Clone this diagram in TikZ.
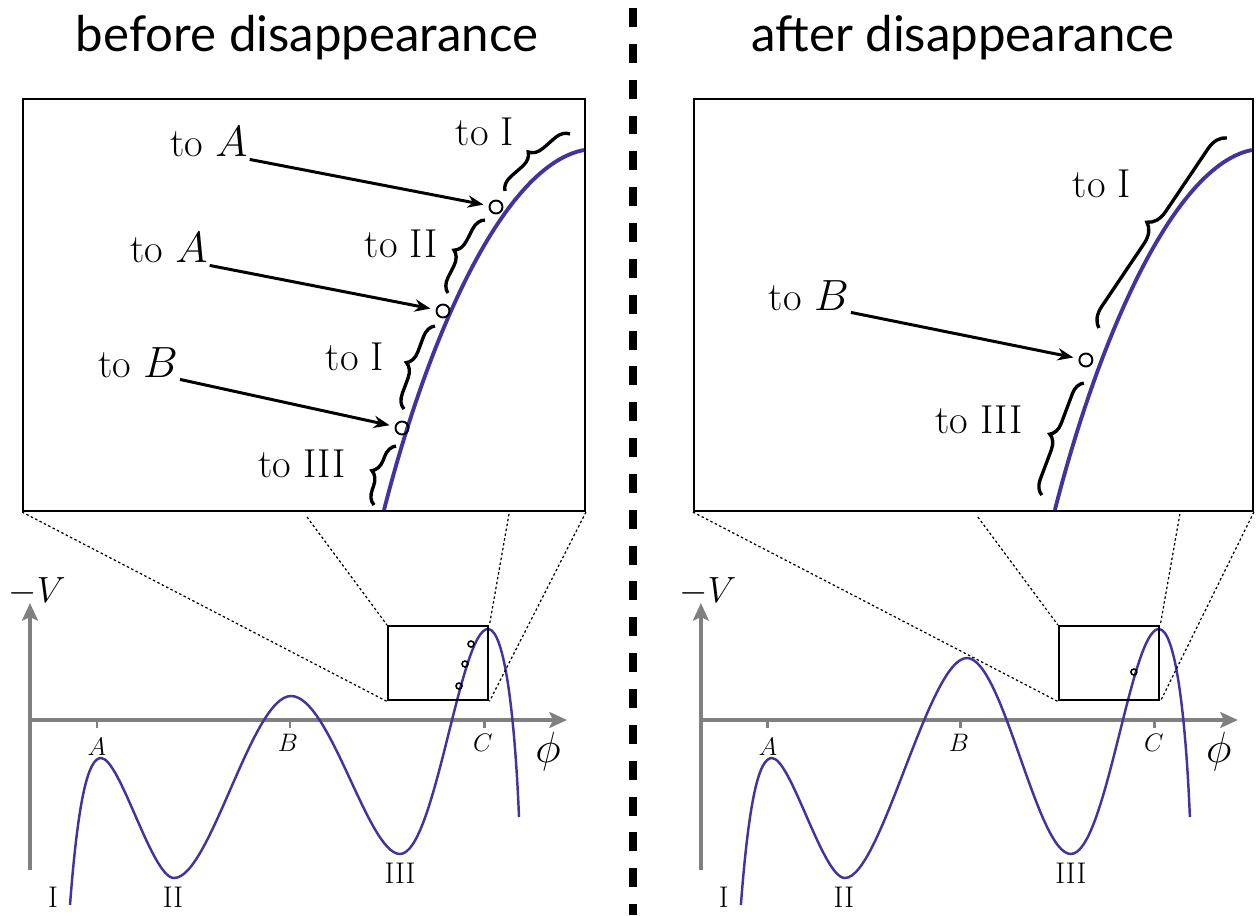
\documentclass[tikz,border=0pt]{standalone}
\usepackage{fontspec}
\newfontfamily\titlefont{Lato}
\usetikzlibrary{arrows.meta,decorations.pathreplacing}
\definecolor{potblue}{RGB}{66,52,158}
\definecolor{axisgray}{RGB}{128,128,128}
\tikzset{
  zoombox/.style={draw,line width=1.2pt,inner sep=0pt,anchor=north west},
  dotpt/.style={circle,draw,line width=1.1pt,minimum size=0.26cm,inner sep=0pt},
  smallpt/.style={circle,draw,line width=0.9pt,minimum size=0.12cm,inner sep=0pt},
  lab/.style={font=\fontsize{23}{26}\selectfont,inner sep=1pt,anchor=base},
  arr/.style={-{Stealth[length=9pt,width=7pt]},line width=1.7pt,shorten >=3pt},
  brc/.style={decorate,decoration={brace,amplitude=#1},line width=1.9pt},
  brc/.default=8pt,
  axisline/.style={axisgray,line width=2.3pt,-{Stealth[length=10pt,width=9pt,inset=2pt]}},
  tickmark/.style={axisgray,line width=1.7pt},
  guide/.style={line width=0.7pt,dash pattern=on 1.4pt off 1.4pt},
  ttl/.style={font=\titlefont\fontsize{28}{31}\selectfont,anchor=base},
}
\begin{document}
\begin{tikzpicture}[x=0.02cm,y=-0.02cm]
\useasboundingbox (0,0) rectangle (1256,915);
% titles and divider
\node[ttl] (titleL) at (307,52) {before disappearance};
\node[ttl] (titleR) at (963,52) {after disappearance};
\draw[line width=5pt,dash pattern=on 10.8pt off 9.6pt] (633,8) -- (633,915);

% ---------- before disappearance ----------
\node[zoombox,minimum width=11.24cm,minimum height=8.24cm] (bigL) at (22,98) {};
\draw[potblue,line width=2.2pt] (384,510) .. controls (430,330) and (505,165) .. (584,150);
\node[dotpt] (p1L) at (496,207) {};
\node[dotpt] (p2L) at (443,311) {};
\node[dotpt] (p3L) at (402,428) {};
\node[lab] (a1L) at (209,157) {to $A$};
\node[lab] (a2L) at (169,263) {to $A$};
\node[lab] (a3L) at (138,377) {to $B$};
\draw[arr] (a1L.south east) -- (p1L);
\draw[arr] (a2L.south east) -- (p2L);
\draw[arr] (a3L.south east) -- (p3L);
% basins along the curve
\draw[brc] (505,191) -- (570,134);
\draw[brc] (448,293) -- (485,220);
\draw[brc] (404,409) -- (435,326);
\draw[brc] (374,505) -- (396,446);
\node[lab] (b1L) at (485,146) {to I};
\node[lab] (b2L) at (401,257) {to II};
\node[lab] (b3L) at (355,370) {to I};
\node[lab] (b4L) at (302,477) {to III};
% potential
\draw[axisline] (30,870) -- (30,603);
\draw[axisline] (30,720) -- (567,720);
\foreach \x in {97,290,484} \draw[tickmark] (\x,720) -- (\x,728);
\node[font=\fontsize{14}{16}\selectfont] (tAL) at (97,747) {$A$};
\node[font=\fontsize{14}{16}\selectfont] (tBL) at (288,743) {$B$};
\node[font=\fontsize{14}{16}\selectfont] (tCL) at (483,743) {$C$};
\node[font=\fontsize{26}{28}\selectfont] (phiL) at (548,752) {$\phi$};
\node[font=\fontsize{21}{24}\selectfont] (VL) at (37,592) {$-V$};
\draw[potblue,line width=1.4pt] (70,905) .. controls (78,800) and (88,758) .. (101,758)
  .. controls (120,758) and (152,878) .. (174,878) .. controls (210,878) and (252,696) .. (291,696)
  .. controls (330,696) and (368,854) .. (400,854) .. controls (435,854) and (460,629) .. (488,629)
  .. controls (505,629) and (515,720) .. (519,817);
\node[font=\fontsize{17}{20}\selectfont] (m1L) at (53,897) {I};
\node[font=\fontsize{17}{20}\selectfont] (m2L) at (173,897) {II};
\node[font=\fontsize{17}{20}\selectfont] (m3L) at (400,873) {III};
\node[zoombox,line width=1.4pt,minimum width=2cm,minimum height=1.48cm] (smallL) at (387,625) {};
\node[smallpt] (q1L) at (471,644) {};
\node[smallpt] (q2L) at (465,664) {};
\node[smallpt] (q3L) at (459,686) {};
% zoom guides
\coordinate (g2L) at (307,517);
\coordinate (g3L) at (509,514);
\draw[guide] (bigL.south west) -- (smallL.south west);
\draw[guide] (g2L) -- (smallL.north west);
\draw[guide] (g3L) -- (smallL.north east);
\draw[guide] (bigL.south east) -- (smallL.south east);

% ---------- after disappearance ----------
\begin{scope}[xshift=13.42cm]
\node[zoombox,minimum width=11.18cm,minimum height=8.24cm] (bigR) at (22,98) {};
\draw[potblue,line width=2.2pt] (384,510) .. controls (430,330) and (505,165) .. (581,150);
\node[dotpt] (p1R) at (415,360) {};
\node[lab] (a1R) at (138,310) {to $B$};
\draw[arr] (a1R.south east) -- (p1R);
\draw[brc=11pt] (428,328) -- (556,138);
\draw[brc] (371,495) -- (413,383);
\node[lab] (b1R) at (431,198) {to I};
\node[lab] (b2R) at (308,433) {to III};
% potential
\draw[axisline] (30,870) -- (30,603);
\draw[axisline] (30,720) -- (567,720);
\foreach \x in {97,290,484} \draw[tickmark] (\x,720) -- (\x,728);
\node[font=\fontsize{14}{16}\selectfont] (tAR) at (97,747) {$A$};
\node[font=\fontsize{14}{16}\selectfont] (tBR) at (288,743) {$B$};
\node[font=\fontsize{14}{16}\selectfont] (tCR) at (483,743) {$C$};
\node[font=\fontsize{26}{28}\selectfont] (phiR) at (548,752) {$\phi$};
\node[font=\fontsize{21}{24}\selectfont] (VR) at (37,592) {$-V$};
\draw[potblue,line width=1.4pt] (70,905) .. controls (78,800) and (88,758) .. (101,758)
  .. controls (120,758) and (152,878) .. (174,878) .. controls (210,878) and (258,658) .. (296,658)
  .. controls (332,658) and (366,854) .. (400,854) .. controls (435,854) and (460,629) .. (488,629)
  .. controls (505,629) and (515,720) .. (519,817);
\node[font=\fontsize{17}{20}\selectfont] (m1R) at (53,897) {I};
\node[font=\fontsize{17}{20}\selectfont] (m2R) at (173,897) {II};
\node[font=\fontsize{17}{20}\selectfont] (m3R) at (400,873) {III};
\node[zoombox,line width=1.4pt,minimum width=2cm,minimum height=1.48cm] (smallR) at (387,625) {};
\node[smallpt] (q1R) at (463,672) {};
% zoom guides
\coordinate (g2R) at (307,517);
\coordinate (g3R) at (509,514);
\draw[guide] (bigR.south west) -- (smallR.south west);
\draw[guide] (g2R) -- (smallR.north west);
\draw[guide] (g3R) -- (smallR.north east);
\draw[guide] (bigR.south east) -- (smallR.south east);
\end{scope}
\end{tikzpicture}
\end{document}
